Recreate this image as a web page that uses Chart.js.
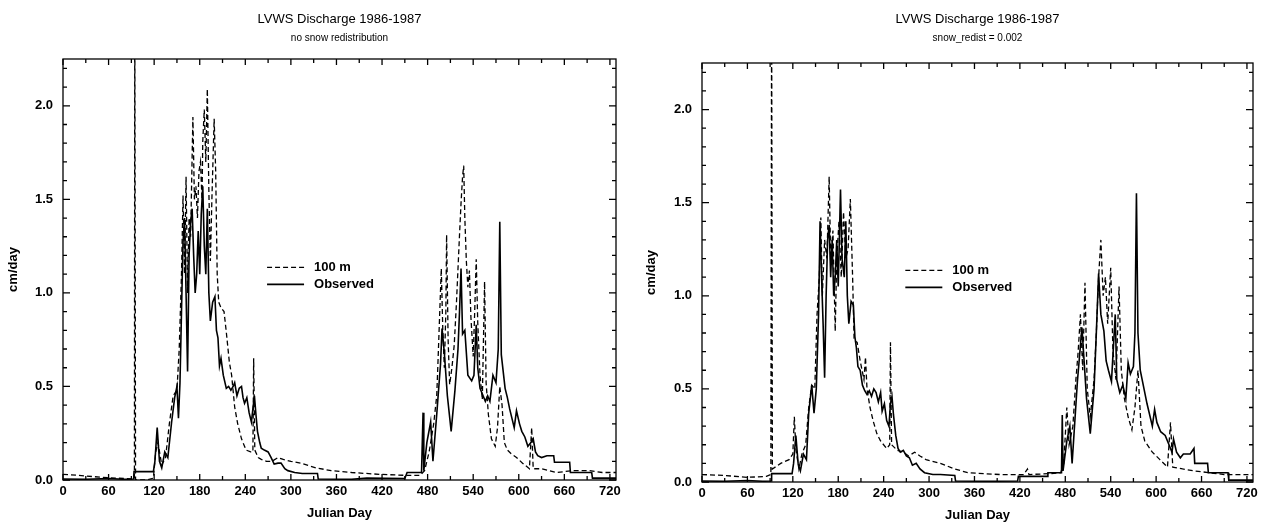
<!DOCTYPE html>
<html>
<head>
<meta charset="utf-8">
<script src="https://cdn.jsdelivr.net/npm/chart.js@4.4.0/dist/chart.umd.min.js"></script>
<style>
  html, body { margin: 0; padding: 0; background: #fff; }
  #left { position: absolute; left: 0; top: 0; }
  #right { position: absolute; left: 631px; top: 0; }
</style>
</head>
<body>
<canvas id="left" width="631" height="523"></canvas>
<canvas id="right" width="632" height="523"></canvas>
<script>
// tick labels
const xTicks = [0, 60, 120, 180, 240, 300, 360, 420, 480, 540, 600, 660, 720];
const yTicks = [0, 0.5, 1.0, 1.5, 2.0];

const titleText = 'LVWS Discharge 1986-1987';
const subtitleLeft = 'no snow redistribution';
const subtitleRight = 'snow_redist = 0.002';
const seriesNames = ['100 m', 'Observed'];

// [julian day, cm/day]
const simLeft = [[0,0.03],[20,0.025],[40,0.018],[60,0.012],[80,0.008],[94,0.006],[94.5,2.6],[95.5,0.0],[110,0.0],[119,0.01],
  [122,0.15],[125,0.2],[130,0.08],[135,0.12],[140,0.3],[145,0.45],[150,0.48],[153,0.7],[156,1.1],[158,1.52],[160,1.1],
  [162,1.62],[164,1.0],[166,1.4],[168,1.3],[171,1.94],[173,1.5],[175,1.57],[177,1.4],[179,1.65],[181,1.7],[183,1.5],
  [184,1.81],[186,1.98],[188,1.7],[190,2.09],[192,1.55],[194,1.17],[196,1.5],[199,1.93],[201,1.65],[203,1.1],[205,0.95],
  [208,0.92],[212,0.9],[215,0.79],[219,0.63],[222,0.56],[226,0.39],[230,0.3],[235,0.22],[241,0.16],[247,0.15],[250,0.15],
  [251,0.65],[252.5,0.16],[257,0.12],[261,0.11],[268,0.1],[275,0.1],[283,0.12],[290,0.11],[300,0.1],[313,0.09],[333,0.065],
  [353,0.05],[380,0.04],[418,0.03],[450,0.025],[470,0.025],[476,0.05],[482,0.15],[488,0.3],[492,0.45],[494,0.67],[496,0.9],
  [498,1.13],[500,0.8],[502,0.6],[504,0.9],[505,1.31],[507,0.75],[509,0.51],[512,0.6],[515,0.72],[518,0.95],[520,1.13],
  [522,1.31],[524,1.48],[526,1.62],[527.5,1.68],[529,1.4],[531,1.17],[533,1.03],[535,1.12],[537,0.87],[540,0.66],[542,0.9],
  [544,1.18],[546,0.84],[549,0.56],[552,0.43],[555,1.06],[557,0.52],[560,0.35],[564,0.22],[569,0.18],[572,0.28],[575,0.5],
  [578,0.4],[581,0.2],[585,0.16],[590,0.14],[597,0.12],[605,0.09],[614,0.06],[617,0.28],[619,0.06],[630,0.06],[650,0.04],
  [670,0.05],[693,0.05],[710,0.04],[728,0.04]];

const obsLeft = [[0,0.005],[30,0.004],[60,0.008],[80,0.004],[93,0.005],[93.5,0.045],[119,0.045],[121,0.1],[124,0.28],
  [127,0.1],[130,0.065],[134,0.15],[138,0.12],[143,0.31],[147,0.44],[150,0.5],[152,0.33],[154,0.52],[156,0.9],[158,1.27],
  [160,1.4],[162,1.0],[164,0.58],[166,1.2],[168,1.38],[170,1.45],[172,1.2],[174,1.0],[176,1.1],[178,1.33],[180,1.1],
  [182,1.42],[184,1.57],[186,1.25],[188,1.1],[190,1.45],[192,1.0],[194,0.85],[197,0.95],[200,0.98],[202,0.8],[204,0.76],
  [206,0.61],[208,0.65],[211,0.56],[215,0.49],[218,0.5],[221,0.48],[224,0.5],[226,0.52],[229,0.45],[232,0.49],[235,0.5],
  [237,0.44],[239,0.41],[242,0.44],[245,0.36],[248,0.31],[250,0.38],[252,0.45],[254,0.35],[256,0.26],[259,0.2],[261,0.17],
  [265,0.16],[270,0.15],[274,0.12],[278,0.085],[283,0.09],[287,0.09],[292,0.06],[296,0.05],[305,0.04],[315,0.035],
  [335,0.035],[336,0.005],[380,0.004],[400,0.01],[450,0.008],[453,0.04],[472,0.04],[474,0.36],[475,0.05],[479,0.2],
  [484,0.31],[487,0.1],[492,0.35],[497,0.62],[499,0.81],[502,0.68],[506,0.45],[511,0.26],[516,0.48],[520,0.7],[522,0.9],
  [524,1.13],[526,0.78],[529,0.8],[533,0.56],[538,0.53],[541,0.56],[544,0.83],[546,0.6],[549,0.49],[553,0.45],[556,0.42],
  [559,0.45],[562,0.42],[566,0.56],[570,0.52],[573,0.7],[575,1.38],[577,0.67],[582,0.49],[585,0.44],[588,0.38],[594,0.28],
  [597,0.37],[601,0.3],[604,0.26],[608,0.23],[612,0.18],[616,0.2],[619,0.22],[622,0.15],[625,0.13],[630,0.12],[637,0.13],
  [646,0.13],[647,0.095],[667,0.095],[668,0.04],[696,0.04],[697,0.01],[728,0.01]];

const simRight = [[0,0.04],[30,0.035],[60,0.025],[85,0.03],[91,0.04],[92,2.6],[93,0.07],[104,0.1],[115,0.12],[120,0.15],
  [122,0.35],[124,0.18],[128,0.07],[132,0.15],[137,0.2],[141,0.4],[145,0.52],[149,0.5],[152,0.9],[155,1.1],[157,1.42],
  [159,1.0],[162,1.3],[165,1.2],[168,1.64],[170,1.2],[173,1.35],[176,0.81],[178,1.2],[181,1.4],[184,1.1],[187,1.45],
  [190,1.2],[193,1.25],[196,1.52],[199,1.1],[201,0.76],[205,0.75],[209,0.65],[214,0.55],[216,0.67],[218,0.5],[222,0.4],
  [226,0.33],[231,0.26],[236,0.22],[244,0.18],[248,0.2],[249,0.75],[250.5,0.2],[258,0.17],[266,0.16],[273,0.14],[281,0.16],
  [288,0.14],[296,0.12],[315,0.1],[334,0.07],[351,0.05],[394,0.04],[425,0.04],[430,0.07],[432,0.04],[460,0.045],[474,0.05],
  [478,0.1],[482,0.4],[485,0.2],[490,0.3],[494,0.55],[497,0.7],[500,0.9],[503,0.6],[506,1.07],[509,0.5],[513,0.35],
  [518,0.55],[521,0.8],[524,1.1],[527,1.3],[530,1.0],[533,1.1],[536,0.85],[540,1.15],[543,0.7],[547,0.55],[551,1.05],
  [554,0.6],[558,0.45],[563,0.35],[568,0.28],[572,0.4],[576,0.6],[580,0.3],[585,0.22],[595,0.16],[605,0.12],[615,0.08],
  [619,0.32],[622,0.08],[635,0.07],[650,0.06],[670,0.05],[690,0.04],[728,0.04]];

const obsRight = [[0,0.005],[30,0.004],[60,0.008],[80,0.004],[91.5,0.005],[92,0.045],[119,0.045],[121,0.1],[124,0.25],
  [127,0.1],[130,0.06],[134,0.15],[138,0.12],[141,0.37],[145,0.52],[148,0.37],[151,0.5],[154,0.9],[156,1.4],[158,1.1],
  [160,0.85],[162,0.56],[164,1.0],[166,1.3],[168,1.38],[170,1.1],[172,1.3],[174,1.0],[176,1.1],[178,1.3],[180,1.05],
  [183,1.57],[185,1.2],[188,1.1],[190,1.4],[192,1.0],[194,0.85],[197,0.97],[200,0.95],[202,0.78],[204,0.72],[206,0.62],
  [209,0.6],[212,0.52],[215,0.49],[218,0.47],[221,0.49],[224,0.46],[227,0.5],[230,0.48],[233,0.43],[236,0.48],[238,0.38],
  [241,0.42],[244,0.33],[247,0.3],[249,0.42],[251,0.46],[253,0.36],[256,0.25],[259,0.18],[262,0.16],[266,0.17],[270,0.14],
  [274,0.13],[278,0.09],[283,0.1],[288,0.07],[294,0.05],[305,0.04],[315,0.04],[334,0.035],[335,0.005],[380,0.004],
  [417,0.005],[418,0.03],[456,0.03],[457,0.05],[475,0.05],[476,0.36],[477,0.06],[482,0.22],[486,0.3],[489,0.1],[496,0.54],
  [502,0.83],[505,0.64],[508,0.45],[513,0.26],[518,0.5],[521,0.8],[524,1.12],[527,0.9],[531,0.81],[534,0.65],[537,0.6],
  [541,0.54],[546,0.9],[548,0.55],[552,0.48],[556,0.52],[560,0.45],[563,0.64],[566,0.58],[570,0.62],[572,0.8],[574,1.55],
  [576,0.8],[579,0.6],[582,0.54],[588,0.42],[595,0.3],[598,0.39],[601,0.32],[606,0.27],[612,0.25],[617,0.2],[621,0.16],
  [623,0.23],[627,0.16],[632,0.13],[636,0.15],[645,0.15],[650,0.18],[651,0.1],[668,0.1],[669,0.05],[695,0.05],[696,0.01],
  [728,0.01]];

const FONT = '"Liberation Sans", Arial, Helvetica, sans-serif';

// frame with inward ticks, in-plot legend and the two title lines
function framePlugin(subtitle) {
  return {
    id: 'frame',
    afterDatasetsDraw(chart) {
      const { ctx, chartArea: a, scales: { x, y } } = chart;
      ctx.save();
      ctx.strokeStyle = '#000';
      ctx.lineWidth = 1.3;
      ctx.strokeRect(a.left, a.top, a.right - a.left, a.bottom - a.top);
      ctx.beginPath();
      for (let d = 0; d <= 720; d += 30) {
        const px = x.getPixelForValue(d);
        const len = d % 60 === 0 ? 6 : 4;
        ctx.moveTo(px, a.bottom); ctx.lineTo(px, a.bottom - len);
        ctx.moveTo(px, a.top); ctx.lineTo(px, a.top + len);
      }
      for (let k = 0; k <= 22; k++) {
        const py = y.getPixelForValue(k / 10);
        const len = k % 5 === 0 ? 7 : 4;
        ctx.moveTo(a.left, py); ctx.lineTo(a.left + len, py);
        ctx.moveTo(a.right, py); ctx.lineTo(a.right - len, py);
      }
      ctx.stroke();

      // legend
      const lx = a.left + 0.369 * (a.right - a.left);
      const ly = a.top + 0.495 * (a.bottom - a.top);
      ctx.font = 'bold 13px ' + FONT;
      ctx.fillStyle = '#000';
      ctx.textBaseline = 'middle';
      chart.data.datasets.forEach((ds, i) => {
        const yy = ly + i * 17;
        ctx.beginPath();
        ctx.lineWidth = ds.borderWidth;
        ctx.setLineDash(ds.borderDash || []);
        ctx.moveTo(lx, yy); ctx.lineTo(lx + 37, yy);
        ctx.stroke();
        ctx.setLineDash([]);
        ctx.fillText(ds.label, lx + 47, yy);
      });

      // titles
      const cx = (a.left + a.right) / 2;
      ctx.textAlign = 'center';
      ctx.font = '13px ' + FONT;
      ctx.fillText(titleText, cx, 19);
      ctx.font = '10px ' + FONT;
      ctx.fillText(subtitle, cx, 38);
      ctx.restore();
    }
  };
}

function makeChart(id, sim, obs, subtitle, lay) {
  const toXY = arr => arr.map(p => ({ x: p[0], y: p[1] }));
  return new Chart(document.getElementById(id).getContext('2d'), {
    type: 'line',
    data: {
      datasets: [
        { label: seriesNames[0], data: toXY(sim), borderColor: '#000', borderWidth: 1.3, borderDash: [5, 3] },
        { label: seriesNames[1], data: toXY(obs), borderColor: '#000', borderWidth: 1.6 }
      ]
    },
    options: {
      responsive: false,
      animation: false,
      parsing: true,
      elements: { point: { radius: 0 }, line: { tension: 0 } },
      layout: { padding: { top: lay.top, right: lay.right, left: 0, bottom: 0 } },
      plugins: { legend: { display: false }, tooltip: { enabled: false } },
      scales: {
        x: {
          type: 'linear', min: 0, max: 728,
          afterBuildTicks: s => { s.ticks = xTicks.map(v => ({ value: v })); },
          afterFit: s => { s.height = lay.xh; },
          grid: { display: false, drawTicks: false },
          border: { display: false },
          ticks: { color: '#000', padding: 4, maxRotation: 0, autoSkip: false, font: { family: FONT, size: 13, weight: 'bold' } },
          title: { display: true, text: 'Julian Day', color: '#000', padding: { top: 0, bottom: lay.xtp },
                   font: { family: FONT, size: 13, weight: 'bold' } }
        },
        y: {
          type: 'linear', min: 0, max: 2.25,
          afterBuildTicks: s => { s.ticks = yTicks.map(v => ({ value: v })); },
          afterFit: s => { s.width = lay.yw; },
          grid: { display: false, drawTicks: false },
          border: { display: false },
          ticks: { color: '#000', padding: 10, callback: v => v.toFixed(1), font: { family: FONT, size: 13, weight: 'bold' } },
          title: { display: true, text: 'cm/day', color: '#000', padding: { top: lay.ytp, bottom: 0 },
                   font: { family: FONT, size: 13, weight: 'bold' } }
        }
      }
    },
    plugins: [framePlugin(subtitle)]
  });
}

window.onload = function() {
  makeChart('left', simLeft, obsLeft, subtitleLeft, { top: 59, right: 15, yw: 63, xh: 43, xtp: 2, ytp: 6 });
  makeChart('right', simRight, obsRight, subtitleRight, { top: 63, right: 10, yw: 71, xh: 41, xtp: 0, ytp: 13 });
};
</script>
</body>
</html>
